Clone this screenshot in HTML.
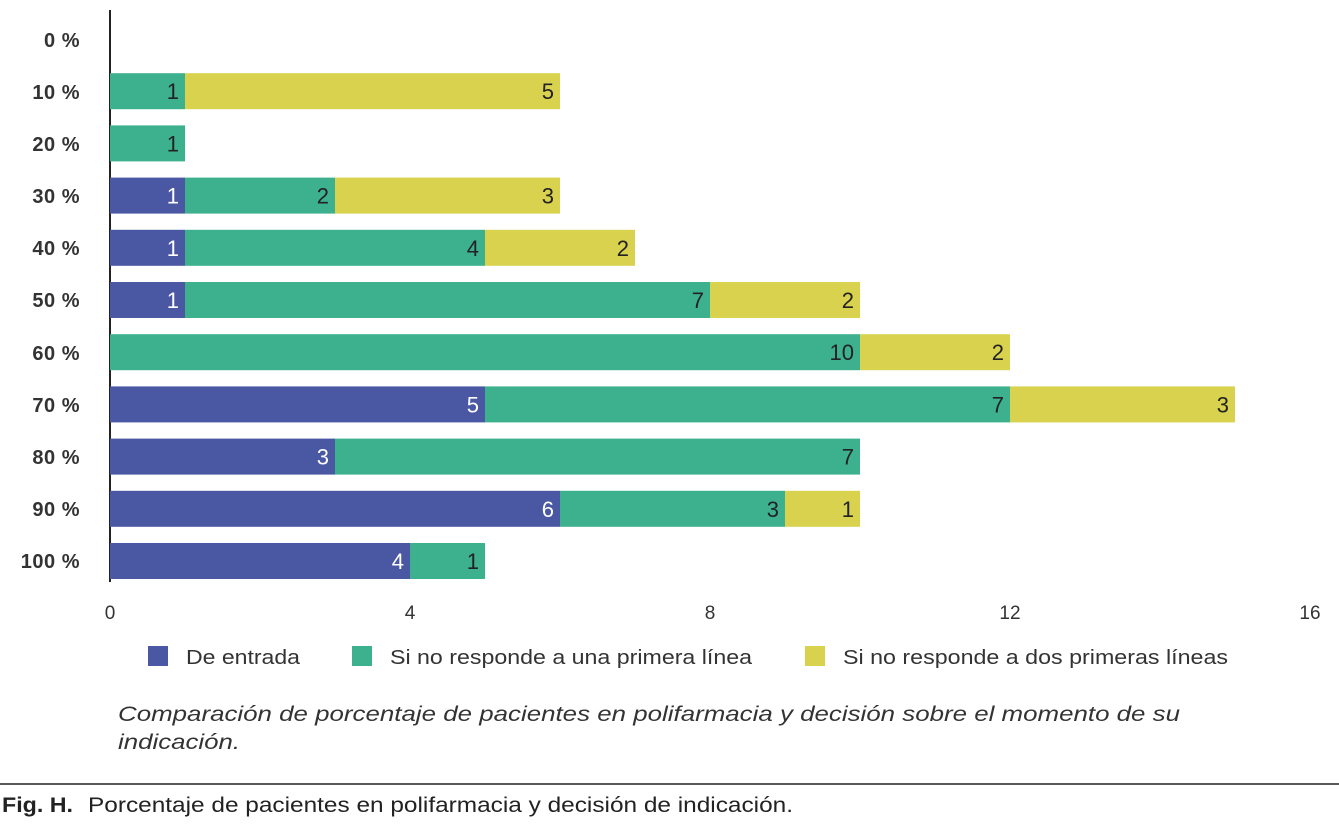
<!DOCTYPE html>
<html><head><meta charset="utf-8"><style>
body{margin:0;background:#fff;width:1339px;height:822px;overflow:hidden;font-family:"Liberation Sans",sans-serif}
</style></head><body>
<svg width="1339" height="822" xmlns="http://www.w3.org/2000/svg" font-family="Liberation Sans, sans-serif">
<line x1="110" y1="10" x2="110" y2="582" stroke="#222" stroke-width="2"/>
<g font-size="20" font-weight="bold" fill="#333" text-anchor="end" letter-spacing="0.5">
<text x="80" y="47">0 %</text><text x="80" y="99">10 %</text><text x="80" y="151">20 %</text>
<text x="80" y="203">30 %</text><text x="80" y="255">40 %</text><text x="80" y="307">50 %</text>
<text x="80" y="360">60 %</text><text x="80" y="412">70 %</text><text x="80" y="464">80 %</text>
<text x="80" y="516">90 %</text><text x="80" y="568">100 %</text>
</g>
<g id="bars" font-size="22"></g>
<g font-size="19" fill="#333" text-anchor="middle">
<text x="110" y="619">0</text><text x="410" y="619">4</text><text x="710" y="619">8</text><text x="1010" y="619">12</text><text x="1310" y="619">16</text>
</g>
<g font-size="20" fill="#333">
<rect x="148" y="646" width="20" height="20" fill="#4a57a3"/><text x="186" y="664" textLength="114" lengthAdjust="spacingAndGlyphs">De entrada</text>
<rect x="352" y="646" width="20" height="20" fill="#3db08e"/><text x="390" y="664" textLength="362" lengthAdjust="spacingAndGlyphs">Si no responde a una primera línea</text>
<rect x="805" y="646" width="20" height="20" fill="#d9d24f"/><text x="843" y="664" textLength="385" lengthAdjust="spacingAndGlyphs">Si no responde a dos primeras líneas</text>
</g>
<text x="118" y="721" font-size="21" font-style="italic" fill="#333" textLength="1062" lengthAdjust="spacingAndGlyphs">Comparación de porcentaje de pacientes en polifarmacia y decisión sobre el momento de su</text>
<text x="118" y="749" font-size="21" font-style="italic" fill="#333" textLength="122" lengthAdjust="spacingAndGlyphs">indicación.</text>
<line x1="0" y1="784" x2="1339" y2="784" stroke="#222" stroke-width="1.5"/>
<text x="2" y="812" font-size="21" fill="#222" font-weight="bold" textLength="71" lengthAdjust="spacingAndGlyphs">Fig. H.</text>
<text x="88" y="812" font-size="21" fill="#222" textLength="705" lengthAdjust="spacingAndGlyphs">Porcentaje de pacientes en polifarmacia y decisión de indicación.</text>
</svg>
<script>
var d=[[0,0,0],[0,1,5],[0,1,0],[1,2,3],[1,4,2],[1,7,2],[0,10,2],[5,7,3],[3,7,0],[6,3,1],[4,1,0]];
var c=["#4a57a3","#3db08e","#d9d24f"],tc=["#fff","#222","#222"],s="";
d.forEach(function(r,i){var yc=39+i*52.2,x=110;r.forEach(function(v,j){if(!v)return;var w=v*75;
s+='<rect x="'+x+'" y="'+(yc-18)+'" width="'+w+'" height="36" fill="'+c[j]+'"/>';
s+='<text x="'+(x+w-6)+'" y="'+(yc+8)+'" text-anchor="end" fill="'+tc[j]+'">'+v+'</text>';x+=w;});});
document.getElementById("bars").innerHTML=s;
</script>
</body></html>
